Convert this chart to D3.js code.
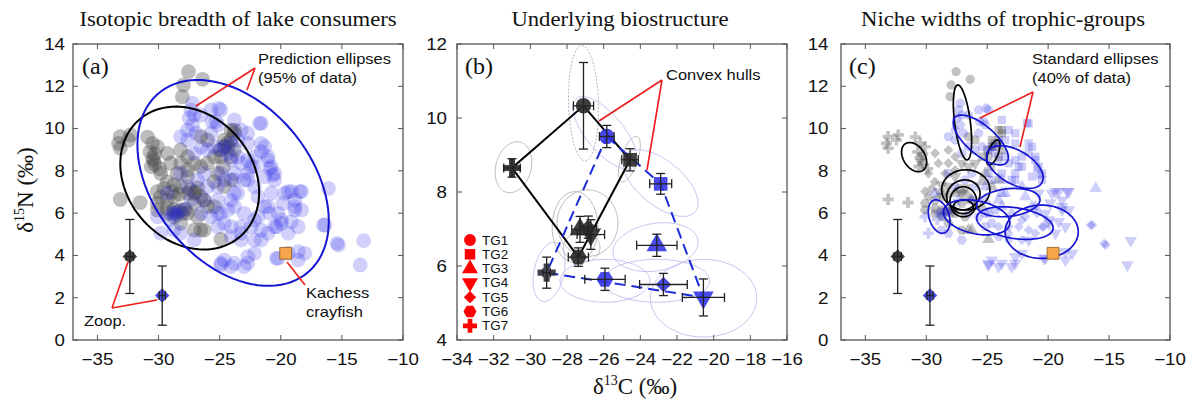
<!DOCTYPE html>
<html><head><meta charset="utf-8">
<script src="https://cdn.jsdelivr.net/npm/d3@7"></script>
<style>body{margin:0;background:#fff;} svg{display:block;}</style>
</head><body>
<svg id="chart" width="1190" height="408"></svg>
<script>
// ---------------- DATA ----------------
const panelTitles = ["Isotopic breadth of lake consumers", "Underlying biostructure", "Niche widths of trophic-groups"];
const panelLetters = ["(a)", "(b)", "(c)"];
const xTicksAC = [-35, -30, -25, -20, -15, -10];
const yTicksAC = [0, 2, 4, 6, 8, 10, 12, 14];
const xTicksB = [-34, -32, -30, -28, -26, -24, -22, -20, -18, -16];
const yTicksB = [4, 6, 8, 10, 12];
const groups = ["TG1", "TG2", "TG3", "TG4", "TG5", "TG6", "TG7"];

// individual consumers (grey = black lake, blue = blue lake): [d13C, d15N, trophic group]
const greyPoints = [
 [-27.55,12.69,1],[-26.4,12.33,1],[-27.96,12.06,1],[-28.05,11.51,1],
 [-33.13,9.62,7],[-33.27,9.3,7],[-32.3,9.7,7],[-32.45,9.46,7],[-33.13,9.07,7],
 [-33.13,6.65,7],[-31.5,6.5,7],[-24.9,4.76,3],[-26.54,5.2,3],
 [-30.4,8.5,7],[-30.5,9.3,7],[-30.9,9.6,7],[-29.83,7.88,5],[-29.3,7.49,5],[-29.56,7.17,5],
 [-28.74,7.33,4],[-28.19,7.25,4],[-27.63,6.94,3],[-27.09,6.94,4],[-26.54,6.78,3],[-26.27,6.62,3],
 [-28.74,6.15,6],[-28.19,6.15,6],[-29.3,6.23,6],[-27.63,5.99,6],[-26.81,5.83,6],[-27.09,6.47,6],
 [-26.0,6.31,3],[-25.44,6.31,3],[-28.74,6.78,4],[-29.83,6.78,5],[-30.1,7.02,5],[-28.46,7.88,5],
 [-27.63,8.04,5],[-27.09,8.36,4],[-26.54,8.2,4],[-27.63,8.67,5],[-28.19,8.99,5],[-26.0,9.46,1],
 [-26.54,9.62,1],[-24.62,9.46,2],[-24.34,9.14,2],[-23.8,9.77,2],[-23.8,8.99,2],[-24.07,8.67,2],
 [-24.9,8.67,2],[-25.16,7.88,3],[-24.07,7.57,3],[-24.62,7.25,3],[-25.44,7.49,3],[-26.0,8.36,4],
 [-25.44,8.67,2],[-28.19,8.36,5],[-29.01,8.36,5],[-29.28,8.83,5],[-30.1,9.14,7],[-27.63,7.73,4],
 [-29.28,6.62,6],[-30.1,6.47,6],[-27.09,5.2,6],[-26.27,5.2,3],[-28.74,5.83,6],[-29.28,5.99,6],
 [-23.8,9.93,2],[-24.07,9.46,2],[-28.19,5.52,6],[-30.1,6.15,6],[-24.07,9.93,2],[-24.62,9.14,2],
 [-30.6,8.2,7],[-30.3,8.8,7],[-30.7,8.9,7],[-29.9,8.1,7],[-30.3,8.3,7],[-30.5,8.6,7],
 [-28.5,6.05,6],[-28.0,6.0,6],[-27.8,6.2,6],[-28.9,7.0,4],[-28.3,6.9,4],[-27.4,7.1,3],
 [-27.0,7.0,5],[-26.8,7.2,4],[-25.0,9.0,2],[-24.4,9.3,2],[-24.7,8.2,2]
];
const bluePoints = [
 [-27.22,11.2,1],[-27.36,10.88,1],[-27.09,10.64,1],[-27.5,10.49,1],[-27.22,10.17,1],[-27.63,9.93,1],
 [-26.95,9.78,1],[-26.54,10.64,1],[-25.71,10.88,1],[-24.9,10.88,1],[-25.3,10.33,1],[-23.8,10.41,2],
 [-25.16,10.17,1],[-21.6,10.25,2],[-23.24,9.93,2],[-22.7,9.78,2],[-28.19,9.62,1],[-25.63,10.33,1],
 [-25.08,10.96,1],[-21.74,10.25,2],[-21.6,9.3,2],[-22.7,9.3,2],[-21.6,8.91,2],[-20.91,8.12,2],
 [-21.05,8.51,2],[-20.64,7.8,2],[-21.32,7.73,2],[-20.5,7.57,2],[-22.15,8.67,2],[-22.42,8.2,2],
 [-22.7,7.57,2],[-22.15,7.25,3],[-20.77,6.94,4],[-21.87,6.78,3],[-21.32,6.31,3],[-19.68,6.94,4],
 [-19.13,7.02,4],[-18.44,7.02,4],[-19.82,6.47,4],[-18.85,6.31,4],[-18.3,6.15,4],[-20.23,5.99,4],
 [-20.91,5.99,5],[-19.95,5.52,4],[-19.13,5.6,4],[-18.58,5.36,4],[-19.4,5.05,4],[-20.36,5.36,5],
 [-21.6,5.2,5],[-22.15,4.73,5],[-21.6,4.73,4],[-16.1,7.17,3],[-16.38,5.44,5],[-15.4,4.57,5],
 [-18.58,4.18,4],[-19.4,4.1,4],[-20.36,3.86,4],[-22.15,4.1,4],[-22.7,3.94,4],[-24.07,3.47,4],
 [-24.9,3.55,4],[-24.62,3.78,4],[-23.0,3.47,4],[-23.24,4.73,5],[-24.07,4.89,6],[-25.16,5.36,6],
 [-24.62,5.52,6],[-23.24,5.36,5],[-22.15,5.68,5],[-23.0,5.99,3],[-24.34,6.15,6],[-25.16,5.99,6],
 [-23.52,6.94,3],[-23.8,7.57,3],[-24.62,7.57,2],[-25.16,7.25,3],[-23.24,8.36,2],[-24.07,8.51,2],
 [-24.62,9.14,1],[-24.07,9.3,2],[-23.52,9.46,2],
 [-30.1,5.83,7],[-29.83,5.05,7],[-28.74,5.2,6],[-28.19,5.05,6],[-27.09,4.73,6],[-28.74,5.99,7],
 [-27.9,6.15,6],[-26.54,5.99,6],[-25.71,5.83,6],[-24.9,5.99,6],[-24.07,5.36,5],[-25.16,6.62,3],
 [-24.07,6.62,3],[-23.8,6.31,3],[-26.0,7.25,1],[-27.63,7.25,1],[-28.19,7.88,1],[-27.09,8.83,1],
 [-26.54,9.14,1],[-26.0,8.99,1],[-25.44,9.14,1],[-24.9,8.99,1],[-24.34,8.83,2],[-23.52,8.67,2],
 [-22.7,8.51,2],[-22.15,8.2,2],[-22.7,7.88,2],[-23.0,7.57,2],[-23.8,7.88,2],[-23.8,6.94,3],
 [-26.27,7.88,1],[-24.9,7.88,2],[-26.27,6.62,6],[-27.36,6.62,7],[-29.28,6.94,7],[-26.81,7.57,1],
 [-27.63,9.46,1],[-25.71,9.78,1],[-20.77,8.2,2],[-20.5,7.88,2],[-21.05,8.67,2],[-21.32,9.14,2],
 [-19.4,7.02,4],[-18.85,6.62,4],[-18.3,7.02,4],[-18.85,6.15,4],[-19.95,5.68,4],[-20.5,5.36,5],
 [-21.05,5.05,5],[-23.24,5.05,5],[-22.42,5.36,5],[-21.87,5.83,5],[-21.05,6.31,3],[-16.51,5.44,5],
 [-15.28,4.49,5],[-13.22,4.7,4],[-13.5,3.55,4],[-18.03,4.1,4],[-18.58,3.78,4],[-20.23,3.86,4],
 [-22.7,3.63,4],[-24.9,3.63,4],[-23.8,3.63,4],[-28.9,6.0,7],[-28.5,5.9,7],[-28.3,6.1,6],[-29.1,5.7,7]
];

// zooplankton baselines: [d13C, d15N, xErr, yLow, yHigh]
const zoopBlack = [-32.35, 3.95, 0.3, 2.2, 5.7];
const zoopBlue = [-29.7, 2.1, 0.25, 0.7, 3.5];
const crayfish = [-19.6, 4.1];

// group means in (b): [group, d13C, d15N, xErr, yErr]
const blackMeans = [
 ["TG1",-27.1,10.33,0.55,1.17],["TG2",-24.56,8.87,0.45,0.3],["TG3",-27.29,6.99,0.45,0.35],
 ["TG4",-26.7,6.85,0.75,0.4],["TG5",-26.84,7.05,0.45,0.3],["TG6",-27.38,6.24,0.55,0.25],
 ["TG7",-31.0,8.65,0.45,0.25]
];
const blueMeans = [
 ["TG1",-25.83,9.5,0.4,0.3],["TG2",-22.89,8.22,0.6,0.28],["TG3",-23.1,6.56,1.1,0.3],
 ["TG4",-20.56,5.15,1.15,0.5],["TG5",-22.74,5.5,1.3,0.3],["TG6",-25.93,5.64,1.1,0.3],
 ["TG7",-29.11,5.82,0.2,0.42]
];
const blackHull = ["TG1","TG2","TG6","TG7"];
const blueHull = ["TG1","TG2","TG4","TG7"];

// ellipses: [centre d13C, centre d15N, half-width, half-height, correlation]
const predEllipseBlack = [-27.45, 7.66, 5.68, 3.38, -0.2];
const predEllipseBlue = [-23.9, 7.43, 7.83, 4.87, -0.37];
const bioEllipsesBlack = [
 [-27.1,10.4,0.82,1.56,-0.1],[-30.92,8.67,1.0,0.69,0.2],[-24.6,8.89,0.6,0.61,0.6],
 [-27.56,7.05,1.25,0.96,0],[-26.88,7.16,1.66,0.9,0],[-27.2,6.5,1.0,0.4,0]
];
const bioEllipsesBlue = [
 [-25.93,9.6,1.75,0.98,-0.7],[-22.9,8.24,2.05,0.9,-0.6],[-23.17,6.51,2.32,0.66,0.2],
 [-23.12,5.6,2.9,0.58,0],[-20.55,5.13,2.9,1.05,0],[-25.93,5.6,2.45,0.58,0],[-28.98,5.84,0.87,0.8,0.3]
];
const stdEllipsesBlack = [
 [-27.03,10.29,0.75,1.77,-0.5],[-31.0,8.65,1.03,0.69,-0.35],[-24.5,8.87,0.55,0.59,0.6],
 [-26.76,7.1,1.98,0.95,0],[-26.96,6.86,1.37,0.71,0.1],[-26.96,6.54,1.1,0.71,0],[-26.96,6.3,0.82,0.32,0]
];
const stdEllipsesBlue = [
 [-25.53,9.46,2.26,1.18,-0.7],[-22.73,8.18,2.32,1.01,-0.5],[-23.27,6.5,2.6,0.67,0.2],
 [-28.95,5.84,0.89,0.79,-0.3],[-25.87,5.8,2.73,0.83,-0.3],[-22.73,5.53,3.14,0.77,-0.3],
 [-20.53,5.12,3.0,1.26,0]
];

// ---------------- DRAWING ----------------
const svg = d3.select("#chart");
const TOP = 44, BOT = 340;
const SANS = "Liberation Sans", SERIF = "Liberation Serif";
const GREY_FILL = "#484848", BLUE_FILL = "#1f1fe6", BLUE_LINE = "#1414d2", RED = "#ee1c1c";
const TICK_FS = 16, TICK_SX = 1.17, ANN_FS = 14, ANN_SX = 1.18;

const hexagon = { draw(ctx, size) { const r = Math.sqrt(2 * size / (3 * Math.sqrt(3)));
  for (let i = 0; i < 6; i++) { const a = Math.PI / 3 * i; const px = r * Math.cos(a), py = r * Math.sin(a);
    if (i === 0) ctx.moveTo(px, py); else ctx.lineTo(px, py); } ctx.closePath(); } };
function symFor(tg) {
  return [d3.symbolCircle, d3.symbolSquare, d3.symbolTriangle, d3.symbolTriangle, d3.symbolSquare, hexagon, d3.symbolCross][tg - 1];
}
function rotFor(tg) { return tg === 4 ? 180 : (tg === 5 ? 45 : 0); }

function makePanel(left, right, xd, yd) {
  const x = d3.scaleLinear().domain(xd).range([left, right]);
  const y = d3.scaleLinear().domain(yd).range([BOT, TOP]);
  return { x, y, g: svg.append("g") };
}
function label(g, x, y, s, fs, ff, sx, anchor, fill) {
  return g.append("text").attr("transform", `translate(${x},${y}) scale(${sx},1)`).attr("font-family", ff)
    .attr("font-size", fs).attr("text-anchor", anchor || "start").attr("fill", fill || "#111").text(s);
}
function frame(p, xt, yt, pad) {
  const g = p.g.append("g");
  const [l, r] = p.x.range();
  g.append("rect").attr("x", l).attr("y", TOP).attr("width", r - l).attr("height", BOT - TOP)
    .attr("fill", "none").attr("stroke", "#555").attr("stroke-width", 1.3);
  xt.forEach(v => {
    const X = p.x(v);
    g.append("line").attr("x1", X).attr("x2", X).attr("y1", BOT).attr("y2", BOT - 5).attr("stroke", "#555");
    g.append("line").attr("x1", X).attr("x2", X).attr("y1", TOP).attr("y2", TOP + 5).attr("stroke", "#555");
    label(g, X, 365, v < 0 ? "\u2212" + Math.abs(v) : String(v), TICK_FS, SANS, TICK_SX, "middle");
  });
  yt.forEach(v => {
    const Y = p.y(v);
    g.append("line").attr("x1", l).attr("x2", l + 5).attr("y1", Y).attr("y2", Y).attr("stroke", "#555");
    g.append("line").attr("x1", r).attr("x2", r - 5).attr("y1", Y).attr("y2", Y).attr("stroke", "#555");
    label(g, l - pad, Y + 5.8, String(v), TICK_FS, SANS, TICK_SX, "end");
  });
}
function ellipsePath(p, e) {
  const [cx, cy, hx, hy, r] = e; const s = Math.sqrt(1 - r * r);
  const pts = d3.range(0, 96).map(i => { const t = 2 * Math.PI * i / 96;
    return [cx + hx * Math.cos(t), cy + hy * (r * Math.cos(t) + s * Math.sin(t))]; });
  return d3.line().x(d => p.x(d[0])).y(d => p.y(d[1])).curve(d3.curveLinearClosed)(pts);
}
function drawEllipses(p, list, stroke, width, dash) {
  p.g.append("g").selectAll("path").data(list).join("path").attr("d", e => ellipsePath(p, e))
    .attr("fill", "none").attr("stroke", stroke).attr("stroke-width", width).attr("stroke-dasharray", dash || null);
}
function redLines(g, v, ends) {
  ends.forEach(e => g.append("line").attr("x1", v[0]).attr("y1", v[1]).attr("x2", e[0]).attr("y2", e[1])
    .attr("stroke", RED).attr("stroke-width", 1.6));
}
function errBar(g, p, xv, yv, xe, ylo, yhi, color, cap) {
  g.append("line").attr("x1", p.x(xv)).attr("x2", p.x(xv)).attr("y1", p.y(ylo)).attr("y2", p.y(yhi)).attr("stroke", color).attr("stroke-width", 1.3);
  [ylo, yhi].forEach(v => g.append("line").attr("x1", p.x(xv) - cap).attr("x2", p.x(xv) + cap).attr("y1", p.y(v)).attr("y2", p.y(v)).attr("stroke", color).attr("stroke-width", 1.3));
  g.append("line").attr("x1", p.x(xv - xe)).attr("x2", p.x(xv + xe)).attr("y1", p.y(yv)).attr("y2", p.y(yv)).attr("stroke", color).attr("stroke-width", 1.3);
  [xv - xe, xv + xe].forEach(v => g.append("line").attr("x1", p.x(v)).attr("x2", p.x(v)).attr("y1", p.y(yv) - cap).attr("y2", p.y(yv) + cap).attr("stroke", color).attr("stroke-width", 1.3));
}
function zoopAndCray(p) {
  const g = p.g.append("g");
  [[zoopBlack, "#222", "#222"], [zoopBlue, "#2a2ae0", "#222"]].forEach(([z, fill, bar]) => {
    g.append("path").attr("d", d3.symbol(d3.symbolSquare, 105)()).attr("transform", `translate(${p.x(z[0])},${p.y(z[1])}) rotate(45)`)
      .attr("fill", fill).attr("fill-opacity", 0.85);
    errBar(g, p, z[0], z[1], z[2], z[3], z[4], bar, 4.5);
  });
  g.append("path").attr("d", d3.symbol(d3.symbolSquare, 140)()).attr("transform", `translate(${p.x(crayfish[0])},${p.y(crayfish[1])})`)
    .attr("fill", "#f5a54a").attr("stroke", "#8a5a20").attr("stroke-width", 0.8);
}

// ===== Panel (a) =====
const pa = makePanel(73, 403, [-37, -10], [0, 14]);
pa.g.append("g").selectAll("circle").data(greyPoints).join("circle")
  .attr("cx", d => pa.x(d[0])).attr("cy", d => pa.y(d[1])).attr("r", 7.4).attr("fill", GREY_FILL).attr("fill-opacity", 0.36);
pa.g.append("g").selectAll("circle").data(bluePoints).join("circle")
  .attr("cx", d => pa.x(d[0])).attr("cy", d => pa.y(d[1])).attr("r", 7.4).attr("fill", BLUE_FILL).attr("fill-opacity", 0.21);
drawEllipses(pa, [predEllipseBlack], "#000", 2);
drawEllipses(pa, [predEllipseBlue], BLUE_LINE, 2);
zoopAndCray(pa);
frame(pa, xTicksAC, yTicksAC, 8);
label(pa.g, 258, 64, "Prediction ellipses", ANN_FS, SANS, ANN_SX, "start");
label(pa.g, 258, 83, "(95% of data)", ANN_FS, SANS, ANN_SX, "start");
redLines(pa.g, [255, 68], [[196, 106], [247, 90]]);
label(pa.g, 306, 298, "Kachess", ANN_FS, SANS, ANN_SX, "start");
label(pa.g, 306, 317, "crayfish", ANN_FS, SANS, ANN_SX, "start");
redLines(pa.g, [287, 262], [[305, 285]]);
label(pa.g, 84, 326, "Zoop.", ANN_FS, SANS, ANN_SX, "start");
redLines(pa.g, [112, 308], [[128, 262], [157, 300]]);

// ===== Panel (b) =====
const pb = makePanel(457, 787, [-34, -16], [4, 12]);
drawEllipses(pb, bioEllipsesBlack.slice(0, 1), "#aaa", 0.9, "2,1.5");
drawEllipses(pb, bioEllipsesBlack.slice(1), "#b4b4b4", 0.9);
drawEllipses(pb, bioEllipsesBlue, "#bdbdee", 0.9);
const meanMap = (arr) => Object.fromEntries(arr.map(d => [d[0], d]));
const bm = meanMap(blackMeans), um = meanMap(blueMeans);
const hullLine = d3.line().x(d => pb.x(d[1])).y(d => pb.y(d[2])).curve(d3.curveLinearClosed);
pb.g.append("path").attr("d", hullLine(blackHull.map(k => bm[k]))).attr("fill", "none").attr("stroke", "#000").attr("stroke-width", 2);
pb.g.append("path").attr("d", hullLine(blueHull.map(k => um[k]))).attr("fill", "none").attr("stroke", "#1c2bd8")
  .attr("stroke-width", 2).attr("stroke-dasharray", "11,6");
const gb = pb.g.append("g");
[[blackMeans, "#2a2a2a"], [blueMeans, "#3535e8"]].forEach(([arr, fill]) => {
  arr.forEach(d => {
    const tg = groups.indexOf(d[0]) + 1;
    const c = (arr === blueMeans && tg === 7) ? "#2f2f3c" : fill;
    gb.append("path").attr("d", d3.symbol(symFor(tg), tg === 5 ? 120 : 185)())
      .attr("transform", `translate(${pb.x(d[1])},${pb.y(d[2])}) rotate(${rotFor(tg)})`).attr("fill", c).attr("fill-opacity", 0.9);
    errBar(gb, pb, d[1], d[2], d[3], d[2] - d[4], d[2] + d[4], "#222", 4.5);
  });
});
frame(pb, xTicksB, yTicksB, 10);
const lg = pb.g.append("g");
groups.forEach((gname, i) => {
  const tg = i + 1, Y = 240 + i * 14.3;
  lg.append("path").attr("d", d3.symbol(symFor(tg), tg === 5 ? 75 : 110)()).attr("transform", `translate(470,${Y}) rotate(${rotFor(tg)})`).attr("fill", "#ff0000");
  label(lg, 482, Y + 4.5, gname, 12, SANS, 1.12, "start");
});
label(pb.g, 666, 80, "Convex hulls", ANN_FS, SANS, ANN_SX, "start");
redLines(pb.g, [662, 80], [[599, 121], [647, 170]]);

// ===== Panel (c) =====
const pc = makePanel(841, 1170, [-37, -10], [0, 14]);
[[greyPoints, GREY_FILL, 0.33], [bluePoints, BLUE_FILL, 0.22]].forEach(([arr, fill, op]) => {
  pc.g.append("g").selectAll("path").data(arr).join("path")
    .attr("d", d => d3.symbol(symFor(d[2]), d[2] === 5 ? 50 : 68)())
    .attr("transform", d => `translate(${pc.x(d[0])},${pc.y(d[1])}) rotate(${rotFor(d[2])})`)
    .attr("fill", fill).attr("fill-opacity", op);
});
drawEllipses(pc, stdEllipsesBlack, "#000", 1.7);
drawEllipses(pc, stdEllipsesBlue, BLUE_LINE, 1.7);
zoopAndCray(pc);
frame(pc, xTicksAC, yTicksAC, 12.5);
label(pc.g, 1032, 64, "Standard ellipses", ANN_FS, SANS, ANN_SX, "start");
label(pc.g, 1032, 83, "(40% of data)", ANN_FS, SANS, ANN_SX, "start");
redLines(pc.g, [1033, 92], [[980, 118], [1020, 147]]);

// ===== titles, panel letters, axis labels =====
const titleX = [238, 620, 1003];
panelTitles.forEach((t, i) => label(svg, titleX[i], 26, t, 21, SERIF, 1.08, "middle"));
[[82, "(a)"], [465, "(b)"], [849, "(c)"]].forEach(([x, t]) => label(svg, x, 74, t, 24, SERIF, 1, "start"));
const yl = svg.append("text").attr("transform", "translate(33,190) rotate(-90)").attr("text-anchor", "middle")
  .attr("font-family", SERIF).attr("font-size", 23).attr("fill", "#111");
yl.append("tspan").text("\u03b4");
yl.append("tspan").attr("font-size", 14).attr("dy", -9).text("15");
yl.append("tspan").attr("dy", 9).text("N (\u2030)");
const xl = svg.append("text").attr("transform", "translate(635,394)").attr("text-anchor", "middle")
  .attr("font-family", SERIF).attr("font-size", 23).attr("fill", "#111");
xl.append("tspan").text("\u03b4");
xl.append("tspan").attr("font-size", 14).attr("dy", -9).text("13");
xl.append("tspan").attr("dy", 9).text("C (\u2030)");
</script>
</body></html>
